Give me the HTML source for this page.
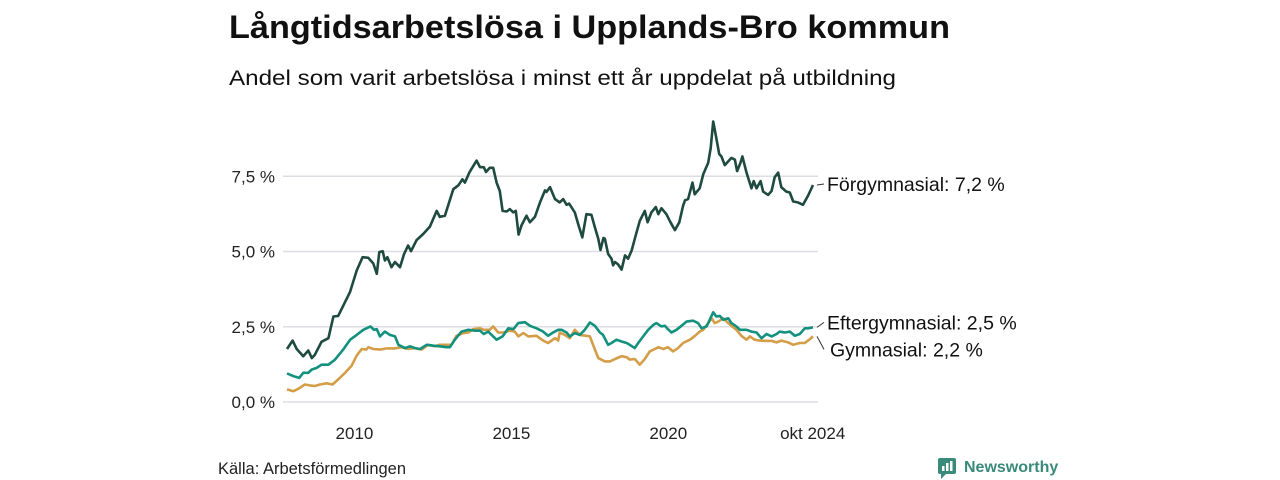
<!DOCTYPE html>
<html><head><meta charset="utf-8"><style>
body{margin:0;background:#fff;}
svg{display:block;font-family:"Liberation Sans",sans-serif;}
</style></head><body>
<svg id="chart" width="1280" height="480" viewBox="0 0 1280 480" xmlns="http://www.w3.org/2000/svg">
<text x="229" y="38" font-size="32" font-weight="bold" fill="#111" textLength="721" lengthAdjust="spacingAndGlyphs">Långtidsarbetslösa i Upplands-Bro kommun</text>
<text x="229" y="85" font-size="21" fill="#111" textLength="667" lengthAdjust="spacingAndGlyphs">Andel som varit arbetslösa i minst ett år uppdelat på utbildning</text>
<g id="grid"></g>
<g id="yaxis"></g>
<g id="xaxis"></g>
<g id="series"></g>
<g id="labels"></g>
<text x="218" y="474" font-size="16.5" fill="#222">Källa: Arbetsförmedlingen</text>
<g>
<rect x="938" y="458" width="18" height="16" rx="2" fill="#3a8a7c"/>
<path d="M941 474 L941 479 L946 474 Z" fill="#3a8a7c"/>
<rect x="942" y="466" width="2.5" height="5" fill="#fff"/><rect x="946" y="463" width="2.5" height="8" fill="#fff"/><rect x="950" y="461" width="2.5" height="10" fill="#fff"/>
<text x="964" y="472" font-size="16" font-weight="bold" fill="#3a8a7c">Newsworthy</text>
</g>
</svg>
<script>
const yTicks=[0,2.5,5,7.5];
const yTickLabels=["0,0 %","2,5 %","5,0 %","7,5 %"];
const xTicks=[2010.15,2015.15,2020.15,2024.75];
const xTickLabels=["2010","2015","2020","okt 2024"];
const seriesNames=["Förgymnasial","Eftergymnasial","Gymnasial"];
const lastLabels=["Förgymnasial: 7,2 %","Eftergymnasial: 2,5 %","Gymnasial: 2,2 %"];
const forT=[2008.00,2008.18,2008.31,2008.52,2008.68,2008.79,2008.89,2009.10,2009.32,2009.48,2009.63,2010.01,2010.22,2010.41,2010.59,2010.75,2010.86,2010.94,2011.05,2011.12,2011.20,2011.33,2011.44,2011.60,2011.73,2011.86,2011.95,2012.13,2012.34,2012.55,2012.77,2012.87,2013.03,2013.30,2013.46,2013.59,2013.67,2013.81,2014.04,2014.15,2014.27,2014.34,2014.46,2014.57,2014.68,2014.78,2014.87,2015.00,2015.10,2015.21,2015.29,2015.38,2015.47,2015.63,2015.74,2015.90,2016.06,2016.22,2016.27,2016.38,2016.54,2016.69,2016.80,2016.91,2016.99,2017.17,2017.28,2017.41,2017.54,2017.70,2017.81,2017.92,2017.99,2018.08,2018.13,2018.23,2018.34,2018.39,2018.45,2018.55,2018.66,2018.77,2018.87,2018.98,2019.14,2019.24,2019.40,2019.49,2019.61,2019.75,2019.83,2019.93,2020.09,2020.22,2020.36,2020.50,2020.62,2020.68,2020.78,2020.92,2020.99,2021.15,2021.26,2021.42,2021.50,2021.58,2021.68,2021.77,2021.84,2021.95,2022.16,2022.27,2022.34,2022.45,2022.51,2022.64,2022.80,2022.87,2022.96,2023.09,2023.17,2023.33,2023.44,2023.54,2023.65,2023.75,2023.91,2024.02,2024.13,2024.28,2024.44,2024.60,2024.76];
const forV=[1.76,2.04,1.76,1.52,1.71,1.46,1.57,2.0,2.12,2.84,2.86,3.66,4.37,4.81,4.79,4.6,4.26,4.98,5.01,4.7,4.81,4.48,4.65,4.48,4.92,5.2,5.01,5.38,5.58,5.82,6.35,6.15,6.19,7.07,7.2,7.4,7.29,7.62,8.02,7.8,7.8,7.64,7.78,7.78,7.29,7.01,6.35,6.33,6.41,6.3,6.35,5.56,5.86,6.19,5.97,6.15,6.63,7.03,6.98,7.14,6.74,6.63,6.74,6.55,6.59,6.3,5.91,5.47,6.24,6.22,5.8,5.42,5.05,5.45,5.42,4.92,4.76,4.54,4.65,4.57,4.4,4.87,4.76,5.03,5.64,6.02,6.35,5.97,6.3,6.48,6.24,6.44,6.24,5.97,5.71,5.97,6.52,6.7,6.74,7.29,6.9,7.1,7.56,7.95,8.44,9.32,8.77,8.24,8.16,7.87,8.11,8.05,7.67,7.95,8.16,7.62,7.1,7.34,7.1,7.34,6.99,6.88,7.01,7.47,7.62,7.14,6.99,6.96,6.66,6.63,6.55,6.85,7.21];
const eftT=[2008.00,2008.20,2008.39,2008.52,2008.68,2008.79,2008.94,2009.10,2009.32,2009.53,2009.79,2010.01,2010.22,2010.43,2010.66,2010.77,2010.86,2010.96,2011.12,2011.28,2011.44,2011.55,2011.76,2011.92,2012.08,2012.24,2012.45,2012.66,2012.87,2013.08,2013.19,2013.35,2013.56,2013.78,2013.99,2014.15,2014.27,2014.41,2014.57,2014.68,2014.87,2015.05,2015.21,2015.37,2015.58,2015.74,2015.95,2016.16,2016.32,2016.48,2016.64,2016.75,2016.91,2017.01,2017.17,2017.33,2017.49,2017.65,2017.81,2017.97,2018.07,2018.23,2018.34,2018.50,2018.66,2018.82,2018.92,2019.08,2019.19,2019.35,2019.51,2019.67,2019.77,2019.93,2020.04,2020.14,2020.25,2020.41,2020.57,2020.73,2020.94,2021.10,2021.21,2021.37,2021.47,2021.58,2021.68,2021.79,2021.90,2022.06,2022.16,2022.32,2022.43,2022.64,2022.80,2022.96,2023.12,2023.28,2023.44,2023.60,2023.70,2023.86,2024.02,2024.18,2024.34,2024.50,2024.60,2024.76];
const eftV=[0.95,0.86,0.8,0.97,0.97,1.08,1.13,1.24,1.24,1.41,1.74,2.07,2.23,2.4,2.51,2.4,2.42,2.18,2.34,2.23,2.18,1.9,1.79,1.85,1.79,1.76,1.9,1.87,1.85,1.82,1.82,2.07,2.34,2.4,2.37,2.37,2.26,2.34,2.18,2.07,2.18,2.45,2.42,2.62,2.65,2.53,2.45,2.34,2.2,2.31,2.4,2.4,2.31,2.18,2.29,2.23,2.4,2.64,2.53,2.31,2.23,1.9,1.96,2.07,2.01,1.96,1.9,1.79,1.96,2.18,2.4,2.56,2.62,2.51,2.53,2.42,2.31,2.4,2.53,2.67,2.7,2.62,2.45,2.51,2.73,2.98,2.84,2.86,2.73,2.78,2.62,2.51,2.4,2.4,2.34,2.31,2.12,2.26,2.18,2.26,2.34,2.31,2.34,2.2,2.26,2.45,2.45,2.48];
const gymT=[2008.00,2008.20,2008.36,2008.57,2008.73,2008.89,2009.05,2009.26,2009.45,2009.63,2009.85,2010.06,2010.22,2010.38,2010.52,2010.59,2010.75,2010.96,2011.17,2011.44,2011.65,2011.86,2012.08,2012.29,2012.50,2012.71,2012.87,2013.08,2013.24,2013.40,2013.62,2013.78,2013.93,2014.15,2014.27,2014.46,2014.57,2014.73,2014.89,2015.10,2015.26,2015.37,2015.53,2015.69,2015.95,2016.16,2016.32,2016.54,2016.64,2016.69,2016.85,2017.01,2017.17,2017.33,2017.54,2017.65,2017.81,2017.92,2018.13,2018.29,2018.45,2018.66,2018.82,2018.92,2019.08,2019.24,2019.40,2019.56,2019.72,2019.83,2019.99,2020.14,2020.30,2020.46,2020.62,2020.84,2021.00,2021.15,2021.26,2021.42,2021.53,2021.63,2021.74,2021.90,2022.06,2022.16,2022.32,2022.48,2022.64,2022.75,2022.90,2023.06,2023.28,2023.44,2023.60,2023.75,2023.97,2024.13,2024.34,2024.50,2024.66,2024.76];
const gymV=[0.42,0.36,0.44,0.58,0.55,0.53,0.58,0.62,0.58,0.75,0.97,1.21,1.54,1.76,1.74,1.82,1.76,1.74,1.78,1.78,1.82,1.76,1.79,1.74,1.9,1.85,1.9,1.9,1.9,2.2,2.29,2.31,2.42,2.45,2.4,2.4,2.51,2.31,2.31,2.37,2.34,2.18,2.29,2.18,2.2,2.04,1.96,2.12,2.04,2.31,2.23,2.12,2.4,2.23,2.2,2.18,1.74,1.46,1.35,1.35,1.43,1.52,1.49,1.41,1.43,1.24,1.43,1.68,1.76,1.82,1.76,1.82,1.68,1.79,1.96,2.07,2.2,2.34,2.4,2.62,2.78,2.62,2.67,2.78,2.62,2.53,2.4,2.2,2.07,2.18,2.07,2.04,2.03,2.03,1.98,2.04,1.98,1.9,1.96,1.96,2.09,2.18];

const NS="http://www.w3.org/2000/svg";
const X0=2008.0,X1=2024.76,PX0=287,PX1=813;
const xs=t=>PX0+(t-X0)/(X1-X0)*(PX1-PX0);
const ys=v=>402-v*30.1;
function mk(tag,attrs,parent){const e=document.createElementNS(NS,tag);for(const k in attrs)e.setAttribute(k,attrs[k]);parent.appendChild(e);return e;}
const grid=document.getElementById('grid'),yax=document.getElementById('yaxis'),xax=document.getElementById('xaxis'),ser=document.getElementById('series'),lab=document.getElementById('labels');
yTicks.forEach((v,i)=>{
  const l=mk('line',{x1:283,x2:818,y1:ys(v),y2:ys(v),stroke:'#dddde3','stroke-width':1.5},grid);
  
  
  const t=mk('text',{x:275,y:ys(v)+6,'text-anchor':'end','font-size':17,fill:'#222'},yax);
  t.textContent=yTickLabels[i];
  
  
});
xTicks.forEach((v,i)=>{
  const t=mk('text',{x:xs(v),y:439,'text-anchor':'middle','font-size':17,fill:'#222'},xax);
  t.textContent=xTickLabels[i];
  
  
});
const sets=[[gymT,gymV,'#d49e48'],[eftT,eftV,'#13917e'],[forT,forV,'#1f4a40']];
const snames=['line-gymnasial','line-eftergymnasial','line-forgymnasial'];
sets.forEach((s,i)=>{
  const d=s[0].map((t,j)=>(j?'L':'M')+xs(t).toFixed(1)+' '+ys(s[1][j]).toFixed(1)).join(' ');
  const p=mk('path',{d:d,fill:'none',stroke:s[2],'stroke-width':2.6,'stroke-linejoin':'round'},ser);
  
  
});
const lastF=forV[forV.length-1],lastE=eftV[eftV.length-1],lastG=gymV[gymV.length-1];
const ends=[[lastF,ys(lastF)-1,0],[lastE,ys(lastE)-5,1],[lastG,ys(lastG)+13,2]];
ends.forEach((e,i)=>{
  const yv=ys(e[0]);
  const c=mk('line',{x1:817,y1:yv,x2:824,y2:e[1],stroke:'#333','stroke-width':1},lab);
  
  
  const t=mk('text',{x:827+(i==2?3:0),y:e[1]+7,'font-size':19.5,fill:'#111'},lab);
  t.textContent=lastLabels[i];
  
  
});
</script>
</body></html>
